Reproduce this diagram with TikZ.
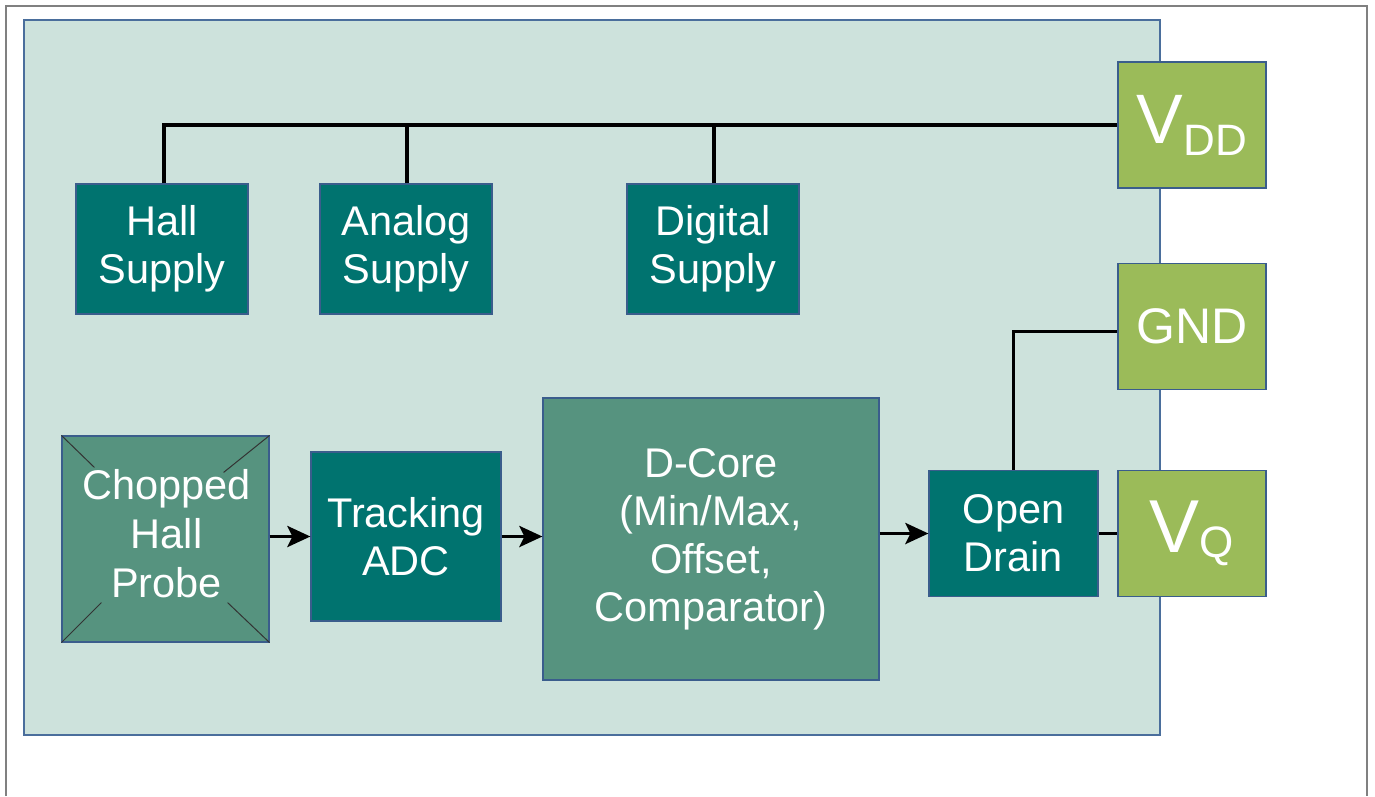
\documentclass[tikz,border=0pt]{standalone}
\usepackage{fontspec}
\setmainfont{Liberation Sans}
\usetikzlibrary{arrows.meta}
\definecolor{panelfill}{HTML}{CDE2DC}
\definecolor{panelline}{HTML}{4A6E9C}
\definecolor{tealbox}{HTML}{00736F}
\definecolor{midbox}{HTML}{56937F}
\definecolor{greenbox}{HTML}{9BBB59}
\definecolor{boxline}{HTML}{3A5D8C}
\definecolor{framegray}{HTML}{808080}
\tikzset{
  blk/.style={draw=boxline, line width=1.2pt, inner sep=0pt, align=center,
    text=white, font=\fontsize{41.5}{48}\selectfont},
  tealblk/.style={blk, fill=tealbox},
  midblk/.style={blk, fill=midbox},
  pin/.style={blk, fill=greenbox, minimum width=148pt, minimum height=126pt},
  wire/.style={line width=3.8pt, black},
  arr/.style={wire, -{Stealth[length=23pt,width=21pt,inset=5pt]}},
  diag/.style={line width=1pt, black!80},
  lbl/.style={align=center, inner sep=0pt, text=white, font=\fontsize{41.5}{49}\selectfont}
}
\begin{document}
\begin{tikzpicture}[x=1pt,y=-1pt]
\useasboundingbox (0,0) rectangle (1375,796);
% outer frame
\draw[framegray, line width=2pt] (6,796) -- (6,6) -- (1367,6) -- (1367,796);
% panel
\node[draw=panelline, fill=panelfill, line width=1.5pt, minimum width=1136pt, minimum height=715pt, inner sep=0pt] (panel) at (592,377.5) {};
% supply boxes
\node[tealblk, minimum width=172pt, minimum height=130pt] (hs) at (162,249) {Hall\\Supply};
\node[tealblk, minimum width=172pt, minimum height=130pt] (as) at (406,249) {Analog\\Supply};
\node[tealblk, minimum width=172pt, minimum height=130pt] (ds) at (713,249) {Digital\\Supply};
% pins
\node[pin] (vdd) at (1192,125) {{\fontsize{70}{70}\selectfont V}\raisebox{-12pt}{\fontsize{44}{44}\selectfont DD}};
\node[pin] (gnd) at (1192,326.5) {\fontsize{50}{50}\selectfont GND};
\node[pin] (vq) at (1192,533.5) {{\fontsize{75}{75}\selectfont V}\raisebox{-5pt}{\fontsize{44}{44}\selectfont Q}};
% signal chain
\node[midblk, minimum width=207pt, minimum height=206pt] (probe) at (165.5,539) {};
\node[lbl] (probetxt) at (166.5,534) {Chopped\\Hall\\Probe};
\node[tealblk, minimum width=190pt, minimum height=169pt] (adc) at (406,536.5) {Tracking\\ADC};
\node[midblk, minimum width=336pt, minimum height=282pt] (dc) at (711,539) {D-Core\\(Min/Max,\\Offset,\\Comparator)};
\node[tealblk, minimum width=169pt, minimum height=126pt] (od) at (1013.5,533.5) {Open\\Drain};
% probe corner marks
\draw[diag] (probe.north west) -- ++(33,32);
\draw[diag] (probe.north east) -- ++(-46,37);
\draw[diag] (probe.south west) -- ++(40,-40);
\draw[diag] (probe.south east) -- ++(-42,-40);
% supply bus
\draw[wire] ([xshift=2pt]hs.north) |- (vdd.west);
\draw[wire] ([xshift=1pt]as.north) -- ([xshift=1pt]as.north |- vdd.west);
\draw[wire] ([xshift=1pt]ds.north) -- ([xshift=1pt]ds.north |- vdd.west);
% signal arrows
\draw[arr] (probe.east |- adc.west) -- (adc.west);
\draw[arr] (adc.east) -- (adc.east -| dc.west);
\draw[arr] (dc.east |- od.west) -- (od.west);
% outputs
\draw[wire] (od.east) -- (vq.west);
\draw[wire] (od.north) |- ([yshift=-5pt]gnd.west);
\end{tikzpicture}
\end{document}
